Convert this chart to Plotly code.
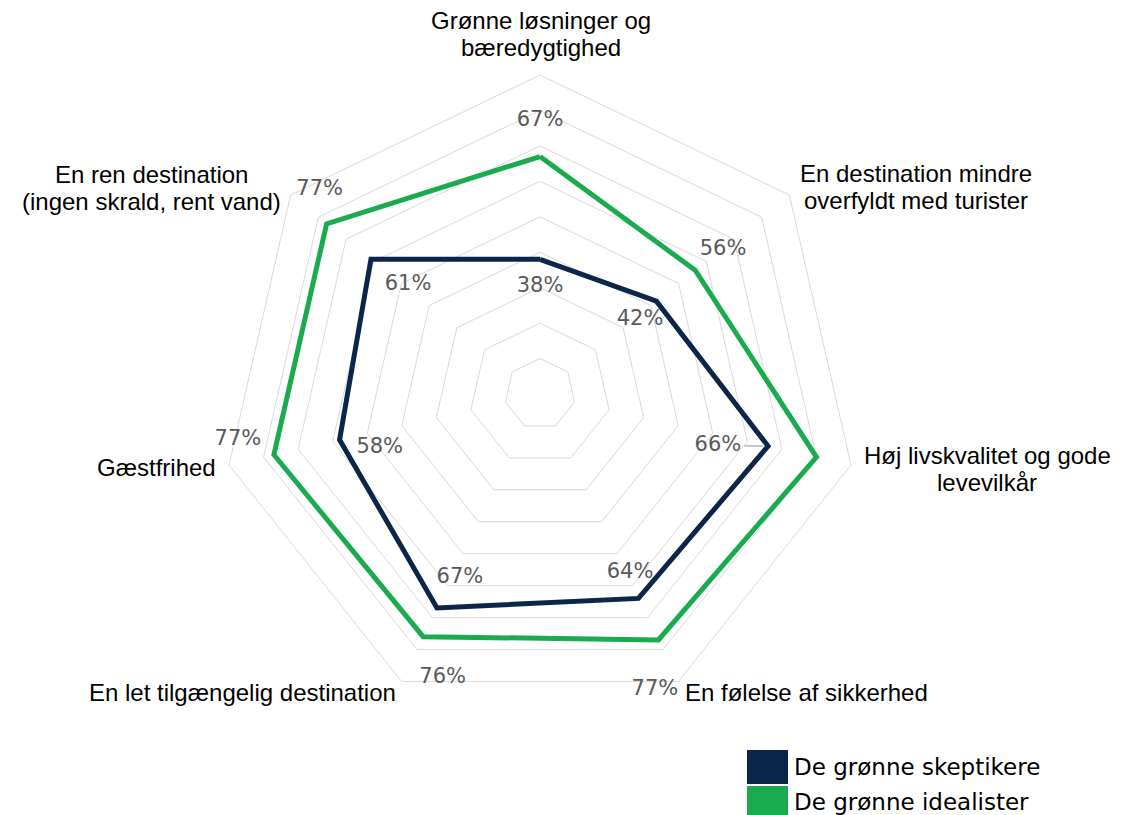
"""Radar chart: De grønne skeptikere vs. De grønne idealister."""

import plotly.graph_objects as go

# the page body has an 8px margin, so the figure is placed 8px in
W, H = 1130, 807
OFF = 8

categories = [
    "Grønne løsninger og bæredygtighed",
    "En destination mindre overfyldt med turister",
    "Høj livskvalitet og gode levevilkår",
    "En følelse af sikkerhed",
    "En let tilgængelig destination",
    "Gæstfrihed",
    "En ren destination (ingen skrald, rent vand)",
]
category_lines = [
    ["Grønne løsninger og", "bæredygtighed"],
    ["En destination mindre", "overfyldt med turister"],
    ["Høj livskvalitet og gode", "levevilkår"],
    ["En følelse af sikkerhed"],
    ["En let tilgængelig destination"],
    ["Gæstfrihed"],
    ["En ren destination", "(ingen skrald, rent vand)"],
]
skeptikere = [38, 42, 66, 64, 67, 58, 61]
idealister = [67, 56, 80, 77, 76, 77, 77]
series_names = ["De grønne skeptikere", "De grønne idealister"]

NAVY = "#0B2648"
GREEN = "#1AAB4F"
GRID = "#d9d9d9"
LABEL_GRAY = "#595959"

# label nudges (radial %, clockwise degrees) per point
ideal_dr = [10, 9.7, 11.1, 12.6, 8.7, 9.2, 7.7]
ideal_dt = [0, 0.4, 9.7, 4.5, -6.8, 4.2, 4.2]
skep_dr = [-7.8, -6.9, -13.7, -7.5, -10.4, -10.3, -12.7]
skep_dt = [0, 2.1, 3.4, -1.0, -2.2, -5.7, 1.0]

# caption anchor (screen pixel centre of first line), line spacing 27px
caption_pos = [(541, 21), (916, 173), (987, 455), (806, 692), (242, 692), (156, 467), (151, 175)]
LINE_GAP = 27


def px(x):
    return (x - OFF) / W


def py(y):
    return 1 - (y - OFF) / H


# polar domain so that centre is at screen (540, 394) with radius 319 px
cx, cy, rad = 540 - OFF, 394 - OFF, 319
dom_x = [(cx - rad) / W, (cx + rad) / W]
dom_y = [(H - cy - rad) / H, (H - cy + rad) / H]

n = len(categories)
step = 360 / n

fig = go.Figure()
for name, vals, color in [(series_names[0], skeptikere, NAVY),
                          (series_names[1], idealister, GREEN)]:
    fig.add_trace(
        go.Scatterpolar(
            r=vals + vals[:1],
            theta=categories + categories[:1],
            mode="lines",
            name=name,
            line={"color": color, "width": 5},
            subplot="polar",
        )
    )

# value labels on an overlaid numeric polar
for vals, dr, dt in [(idealister, ideal_dr, ideal_dt), (skeptikere, skep_dr, skep_dt)]:
    fig.add_trace(
        go.Scatterpolar(
            r=[v + d for v, d in zip(vals, dr)],
            theta=[i * step + t for i, t in enumerate(dt)],
            mode="text",
            text=[f"{v}%" for v in vals],
            textfont={"family": "DejaVu Sans", "size": 21, "color": LABEL_GRAY},
            cliponaxis=False,
            subplot="polar2",
        )
    )

# leader line for the 66% label
v = skeptikere[2]
fig.add_trace(
    go.Scatterpolar(
        r=[v - 6.5, v - 1.5],
        theta=[2 * step + 1.4, 2 * step + 0.3],
        mode="lines",
        line={"color": "#8c8c8c", "width": 1},
        subplot="polar2",
    )
)

for lines, (x0, y0) in zip(category_lines, caption_pos):
    for k, line in enumerate(lines):
        fig.add_annotation(
            text=line, x=px(x0), y=py(y0 + k * LINE_GAP), xref="paper", yref="paper",
            showarrow=False, xanchor="center", yanchor="middle",
            font={"family": "Liberation Sans, Arial", "size": 24, "color": "#000000"},
        )

# legend drawn by hand (large swatches)
for name, color, y0, y1, ty in [(series_names[0], NAVY, 750, 784, 767),
                                (series_names[1], GREEN, 786, 815, 802)]:
    fig.add_shape(type="rect", xref="paper", yref="paper",
                  x0=px(747), x1=px(788), y0=py(y1), y1=py(y0),
                  fillcolor=color, line={"width": 0})
    fig.add_annotation(text=name, x=px(792), y=py(ty), xref="paper", yref="paper",
                       showarrow=False, xanchor="left", yanchor="middle",
                       font={"family": "DejaVu Sans", "size": 23, "color": "#000000"})

fig.update_layout(
    width=W,
    height=H,
    margin={"l": 0, "r": 0, "t": 0, "b": 0},
    paper_bgcolor="white",
    plot_bgcolor="white",
    showlegend=False,
    polar={
        "domain": {"x": dom_x, "y": dom_y},
        "bgcolor": "rgba(0,0,0,0)",
        "gridshape": "linear",
        "radialaxis": {"range": [0, 90], "dtick": 10, "showticklabels": False, "ticks": "",
                       "showline": False, "gridcolor": GRID, "gridwidth": 1},
        "angularaxis": {"categoryorder": "array", "categoryarray": categories,
                        "rotation": 90, "direction": "clockwise", "showticklabels": False,
                        "ticks": "", "showgrid": False, "showline": True,
                        "linecolor": GRID, "linewidth": 1},
    },
    polar2={
        "domain": {"x": dom_x, "y": dom_y},
        "bgcolor": "rgba(0,0,0,0)",
        "radialaxis": {"range": [0, 90], "visible": False},
        "angularaxis": {"rotation": 90, "direction": "clockwise", "visible": False,
                        "thetaunit": "degrees"},
    },
)

fig.write_html("out.html")
